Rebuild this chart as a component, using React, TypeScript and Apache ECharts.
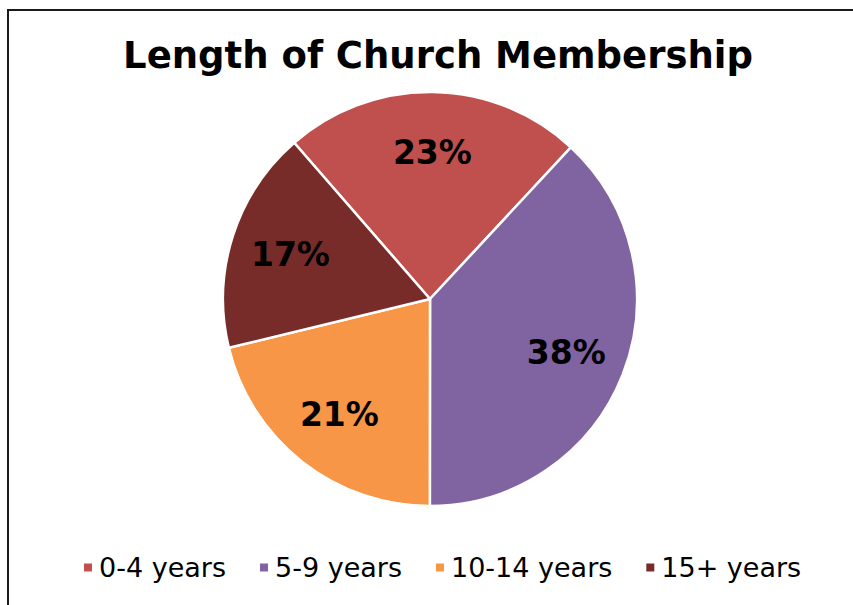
import React, { useEffect, useRef } from "react";
import * as echarts from "echarts";

const categories = ["0-4 years", "5-9 years", "10-14 years", "15+ years"];
const values = [23.3, 38.1, 21.2, 17.4];
const colors = ["#C0504D", "#8064A2", "#F79646", "#772C2A"];
const titleText = "Length of Church Membership";

export default function App() {
  const ref = useRef<HTMLDivElement>(null);
  useEffect(() => {
    document.body.style.margin = "0";
    const chart = echarts.init(ref.current!, null, { renderer: "svg" });
    const data = categories.map((name, i) => ({ name, value: values[i] }));
    const font = "'DejaVu Sans', Verdana, sans-serif";
    chart.setOption({
      animation: false,
      backgroundColor: "#ffffff",
      color: colors,
      title: {
        text: titleText,
        left: 433,
        textAlign: "center",
        top: 32,
        textStyle: { fontFamily: font, fontSize: 37, fontWeight: "bold", color: "#000" },
      },
      legend: {
        data: categories,
        bottom: 19,
        left: 77,
        itemWidth: 10,
        itemHeight: 10,
        itemGap: 32,
        icon: "rect",
        textStyle: { fontFamily: font, fontSize: 27, color: "#000", padding: [0, 0, 0, 1] },
      },
      graphic: [
        {
          type: "rect",
          shape: { x: 8, y: 10, width: 900, height: 700 },
          style: { fill: "none", stroke: "#1a1a1a", lineWidth: 2 },
          silent: true,
        },
      ],
      series: [
        {
          type: "pie",
          center: [430, 299],
          radius: [0, 207],
          startAngle: 131,
          clockwise: true,
          data,
          label: { show: false },
          labelLine: { show: false },
          itemStyle: { borderColor: "#fff", borderWidth: 2.5 },
          emphasis: { disabled: true },
        },
        {
          type: "pie",
          center: [430, 299],
          radius: [80, 207],
          startAngle: 131,
          clockwise: true,
          silent: true,
          data,
          itemStyle: { color: "transparent", borderWidth: 0 },
          label: {
            show: true,
            position: "inside",
            formatter: (p: any) => Math.round(p.percent) + "%",
            fontFamily: font,
            fontSize: 33,
            fontWeight: "bold",
            color: "#000",
          },
          labelLine: { show: false },
          emphasis: { disabled: true },
        },
      ],
    });
    return () => chart.dispose();
  }, []);
  return <div ref={ref} style={{ width: 853, height: 605 }} />;
}
